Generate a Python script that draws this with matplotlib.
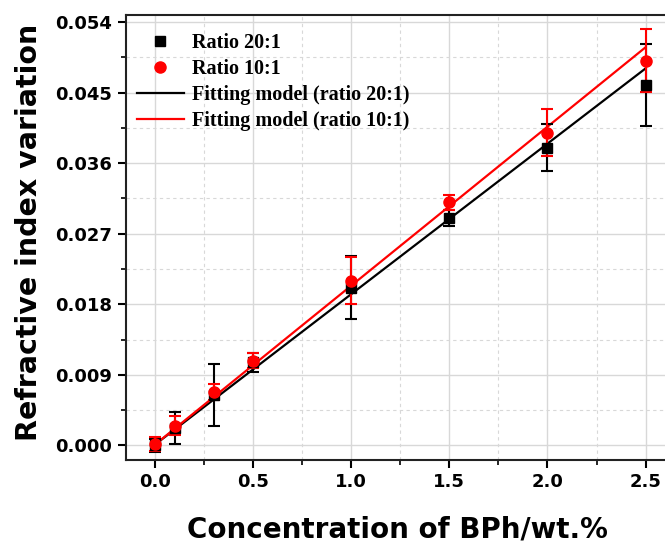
import numpy as np
import matplotlib.pyplot as plt
from matplotlib.lines import Line2D
from matplotlib.ticker import MultipleLocator

conc = [0.0, 0.1, 0.3, 0.5, 1.0, 1.5, 2.0, 2.5]
ratio20 = [0.0000, 0.0022, 0.0064, 0.0106, 0.0201, 0.0290, 0.0380, 0.0460]
err20 = [0.0008, 0.0020, 0.0040, 0.0012, 0.0040, 0.0010, 0.0030, 0.0052]
ratio10 = [0.0002, 0.0025, 0.0068, 0.0108, 0.0210, 0.0310, 0.0399, 0.0491]
err10 = [0.0009, 0.0012, 0.0010, 0.0010, 0.0030, 0.0010, 0.0030, 0.0040]

fit_x = [0.0, 2.5]
fit20 = [0.0001, 0.0481]
fit10 = [0.0001, 0.0508]

plt.rcParams['font.family'] = ['DejaVu Sans']
plt.rcParams['font.weight'] = 'bold'

fig = plt.figure(figsize=(6.65, 5.42), dpi=100)
ax = fig.add_axes([0.189, 0.151, 0.826, 0.821])

ax.errorbar(conc, ratio20, yerr=err20, fmt='s', color='black', ms=7,
            capsize=4, elinewidth=1.5, capthick=1.5, zorder=3)
ax.errorbar(conc, ratio10, yerr=err10, fmt='o', color='red', ms=8,
            capsize=4, elinewidth=1.5, capthick=1.5, zorder=3)
ax.plot(fit_x, fit20, color='black', lw=1.6, zorder=2)
ax.plot(fit_x, fit10, color='red', lw=1.6, zorder=2)

ax.set_xlim(-0.15, 2.65)
ax.set_ylim(-0.0019, 0.0549)
ax.set_xticks([0.0, 0.5, 1.0, 1.5, 2.0, 2.5])
ax.set_yticks(np.arange(0, 0.0541, 0.009))
ax.xaxis.set_minor_locator(MultipleLocator(0.25))
ax.yaxis.set_minor_locator(MultipleLocator(0.0045))
ax.set_xticklabels(['0.0', '0.5', '1.0', '1.5', '2.0', '2.5'])
ax.set_yticklabels(['%.3f' % v for v in np.arange(0, 0.0541, 0.009)])

ax.grid(which='major', color='#d8d8d8', lw=1.0, ls='-')
ax.grid(which='minor', color='#d8d8d8', lw=0.8, ls=(0, (3, 3)))
ax.set_axisbelow(True)

ax.tick_params(which='major', direction='out', length=6, width=1.5, labelsize=13)
ax.tick_params(which='minor', direction='out', length=3.5, width=1.2)
for s in ax.spines.values():
    s.set_linewidth(1.5)
    s.set_color('#222222')

ax.set_xlabel('Concentration of BPh/wt.%', fontsize=20, fontweight='bold', va='baseline')
ax.set_ylabel('Refractive index variation', fontsize=20.5, fontweight='bold', va='baseline')
ax.xaxis.set_label_coords(0.494, -0.173)
ax.yaxis.set_label_coords(-0.162, 0.512)

handles = [
    Line2D([], [], ls='none', marker='s', color='black', ms=7),
    Line2D([], [], ls='none', marker='o', color='red', ms=8),
    Line2D([], [], color='black', lw=1.6),
    Line2D([], [], color='red', lw=1.6),
]
labels = ['Ratio 20:1', 'Ratio 10:1', 'Fitting model (ratio 20:1)', 'Fitting model (ratio 10:1)']
ax.legend(handles, labels, loc='upper left', frameon=False, handlelength=2.3,
          bbox_to_anchor=(-0.012, 1.0),
          prop={'family': 'Liberation Serif', 'weight': 'bold', 'size': 14.5},
          borderaxespad=0.5, labelspacing=0.3, handletextpad=0.4)

fig.savefig('out.png', dpi=100)
